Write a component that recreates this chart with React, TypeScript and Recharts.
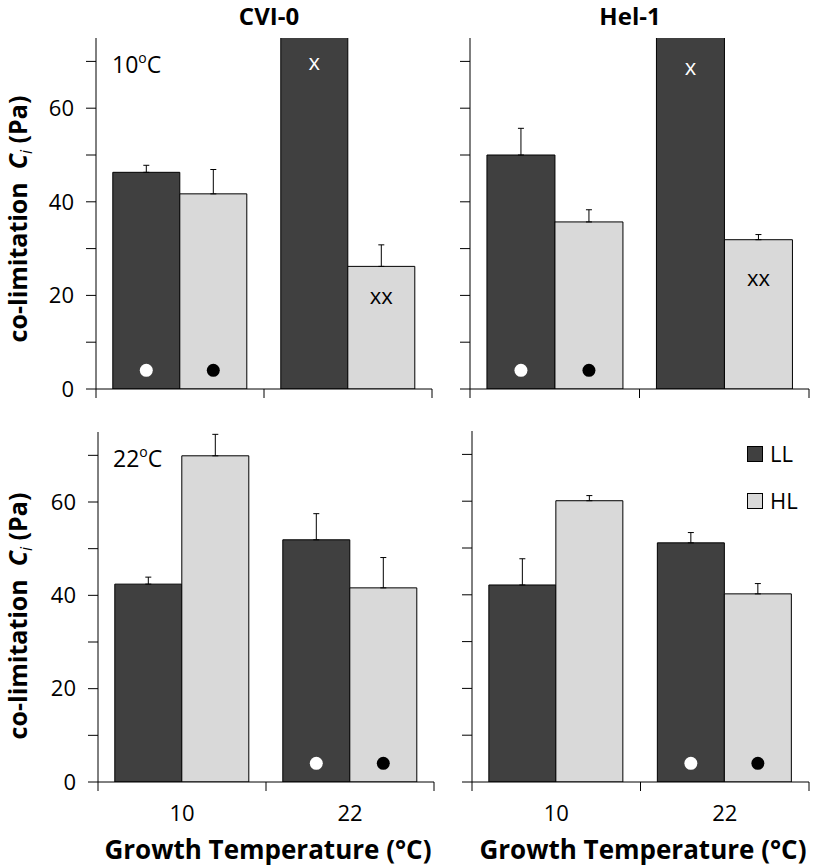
import { BarChart, Bar, XAxis, YAxis, ErrorBar, LabelList, Legend } from "recharts";

const FONT = "'Open Sans', 'Noto Sans', sans-serif";
const DARK = "#404040";
const LIGHT = "#d9d9d9";

// growth temperature categories
const temps = ["10", "22"];
const yTicks = [0, 10, 20, 30, 40, 50, 60, 70];

// measured at 10°C (top row); LL at 22 runs off the top of the axis
const cviTopLL = [46.3, 80];
const cviTopLLErr = [1.5, 0];
const cviTopHL = [41.7, 26.2];
const cviTopHLErr = [5.2, 4.6];
const helTopLL = [50.0, 80];
const helTopLLErr = [5.7, 0];
const helTopHL = [35.7, 31.9];
const helTopHLErr = [2.6, 1.1];

// measured at 22°C (bottom row)
const cviBotLL = [42.4, 51.9];
const cviBotLLErr = [1.5, 5.6];
const cviBotHL = [69.9, 41.6];
const cviBotHLErr = [4.6, 6.5];
const helBotLL = [42.1, 51.1];
const helBotLLErr = [5.6, 2.2];
const helBotHL = [60.1, 40.2];
const helBotHLErr = [1.1, 2.2];

// significance marks and the level (Pa) they sit at
const topLLMarks = ["open", "x"];
const topHLMarks = ["filled", "xx"];
const botLLMarks = ["", "open"];
const botHLMarks = ["", "filled"];
const cviTopLLLevels = [4, 70];
const cviTopHLLevels = [4, 20];
const helTopLLLevels = [4, 69];
const helTopHLLevels = [4, 24];
const botLevels = [4, 4];

function buildRows(
  ll: number[], llErr: number[], hl: number[], hlErr: number[],
  llMarks: string[], hlMarks: string[], llLevels: number[], hlLevels: number[]
) {
  return temps.map((t, i) => ({
    temp: t,
    LL: ll[i],
    llErr: llErr[i] ? [0, llErr[i]] : null,
    llMark: llMarks[i] ? `${llMarks[i]}|${llLevels[i]}|${ll[i]}` : "",
    HL: hl[i],
    hlErr: hlErr[i] ? [0, hlErr[i]] : null,
    hlMark: hlMarks[i] ? `${hlMarks[i]}|${hlLevels[i]}|${hl[i]}` : "",
  }));
}

const renderMark = (props: any) => {
  const vb = props.viewBox ?? props;
  const { x, y, width, height } = vb;
  if (!props.value) return null;
  const [mark, level, value] = String(props.value).split("|");
  const unit = height / Number(value);
  const cx = x + width / 2;
  const cy = y + height - Number(level) * unit;
  if (mark === "open" || mark === "filled") {
    return <circle cx={cx} cy={cy} r={6.5} fill={mark === "open" ? "#fff" : "#000"} />;
  }
  return (
    <text x={cx} y={cy} textAnchor="middle" dominantBaseline="central"
      fill={mark === "x" ? "#fff" : "#000"} fontSize={22} fontFamily={FONT}>
      {mark}
    </text>
  );
};

const BoundaryTick = (props: any) => {
  const { x, y, payload, index, visibleTicksCount, width, showLabel } = props;
  const half = width / visibleTicksCount / 2;
  const isLast = index === visibleTicksCount - 1;
  return (
    <g>
      <line x1={x - half} x2={x - half} y1={y} y2={y + 9} stroke="#000" />
      {isLast && <line x1={x + half} x2={x + half} y1={y} y2={y + 9} stroke="#000" />}
      {showLabel && (
        <text x={x} y={y + 39} textAnchor="middle" fontSize={22} fontFamily={FONT} fill="#000">
          {payload.value}
        </text>
      )}
    </g>
  );
};

const renderLegend = () => (
  <svg width={90} height={84}>
    <rect x={0.5} y={8.5} width={15} height={15} fill={DARK} stroke="#000" />
    <text x={23} y={24} fontSize={22} fontFamily={FONT}>LL</text>
    <rect x={0.5} y={55.5} width={15} height={15} fill={LIGHT} stroke="#000" />
    <text x={23} y={71} fontSize={22} fontFamily={FONT}>HL</text>
  </svg>
);

type PanelProps = {
  left: number;
  top: number;
  width: number;
  height: number;
  margin: { top: number; right: number; bottom: number; left: number };
  yAxisWidth: number;
  xAxisHeight: number;
  data: any[];
  showYLabels: boolean;
  showXLabels: boolean;
  legend?: boolean;
};

function Panel({ left, top, width, height, margin, yAxisWidth, xAxisHeight, data, showYLabels, showXLabels, legend }: PanelProps) {
  return (
    <div style={{ position: "absolute", left, top }}>
      <BarChart width={width} height={height} data={data} margin={margin} barCategoryGap="10%" barGap={0}>
        <XAxis dataKey="temp" interval={0} height={xAxisHeight} axisLine={{ stroke: "#000" }}
          tickLine={false} tickSize={0} tickMargin={0}
          tick={<BoundaryTick showLabel={showXLabels} />} />
        <XAxis xAxisId="top" dataKey="temp" orientation="top" height={0} tick={false} tickLine={false}
          axisLine={{ stroke: "#000" }} />
        <YAxis domain={[0, 75]} ticks={yTicks} allowDataOverflow width={yAxisWidth}
          axisLine={{ stroke: "#000" }} tickLine={{ stroke: "#000" }} tickSize={10} tickMargin={12}
          tick={{ fill: "#000", fontSize: 22, fontFamily: FONT }}
          tickFormatter={(v: number) => (showYLabels && v % 20 === 0 ? String(v) : "")} />
        <YAxis yAxisId="right" orientation="right" width={0} tick={false} tickLine={false}
          axisLine={{ stroke: "#000" }} />
        {legend && (
          <Legend layout="vertical" align="center" verticalAlign="middle" content={renderLegend}
            wrapperStyle={{ left: 307, top: 18, width: 90 }} />
        )}
        <Bar dataKey="LL" fill={DARK} stroke="#000" strokeWidth={1} isAnimationActive={false}>
          <ErrorBar dataKey="llErr" width={3} stroke="#000" strokeWidth={1} direction="y" />
          <LabelList dataKey="llMark" content={renderMark} />
        </Bar>
        <Bar dataKey="HL" fill={LIGHT} stroke="#000" strokeWidth={1} isAnimationActive={false}>
          <ErrorBar dataKey="hlErr" width={3} stroke="#000" strokeWidth={1} direction="y" />
          <LabelList dataKey="hlMark" content={renderMark} />
        </Bar>
      </BarChart>
    </div>
  );
}

const cviTop = buildRows(cviTopLL, cviTopLLErr, cviTopHL, cviTopHLErr, topLLMarks, topHLMarks, cviTopLLLevels, cviTopHLLevels);
const helTop = buildRows(helTopLL, helTopLLErr, helTopHL, helTopHLErr, topLLMarks, topHLMarks, helTopLLLevels, helTopHLLevels);
const cviBot = buildRows(cviBotLL, cviBotLLErr, cviBotHL, cviBotHLErr, botLLMarks, botHLMarks, botLevels, botLevels);
const helBot = buildRows(helBotLL, helBotLLErr, helBotHL, helBotHLErr, botLLMarks, botHLMarks, botLevels, botLevels);

const YLabel = ({ cy }: { cy: number }) => (
  <text transform={`translate(27 ${cy}) rotate(-90)`} textAnchor="middle" fontSize={25}
    fontWeight="bold" fontFamily={FONT} xmlSpace="preserve">
    co-limitation{"  "}
    <tspan fontStyle="italic">C</tspan>
    <tspan fontStyle="italic" fontWeight="normal" fontSize={16} dy={5}>i</tspan>
    <tspan dy={-5}> (Pa)</tspan>
  </text>
);

const TempTag = ({ x, y, t }: { x: number; y: number; t: string }) => (
  <text x={x} y={y} fontSize={23} fontFamily={FONT}>
    {t}
    <tspan fontSize={14} dy={-10}>o</tspan>
    <tspan dy={10}>C</tspan>
  </text>
);

export default function App() {
  return (
    <div style={{ position: "absolute", left: 0, top: 0, width: 815, height: 867, background: "#fff" }}>
      <Panel left={0} top={0} width={440} height={420} margin={{ top: 38, right: 8, bottom: 0, left: 0 }}
        yAxisWidth={96} xAxisHeight={31} data={cviTop} showYLabels showXLabels={false} />
      <Panel left={440} top={0} width={375} height={420} margin={{ top: 38, right: 6, bottom: 0, left: 0 }}
        yAxisWidth={30} xAxisHeight={31} data={helTop} showYLabels={false} showXLabels={false} />
      <Panel left={0} top={420} width={440} height={447} margin={{ top: 12, right: 6, bottom: 0, left: 0 }}
        yAxisWidth={98} xAxisHeight={85} data={cviBot} showYLabels showXLabels />
      <Panel left={440} top={420} width={375} height={447} margin={{ top: 11, right: 6, bottom: 0, left: 0 }}
        yAxisWidth={32} xAxisHeight={85} data={helBot} showYLabels={false} showXLabels legend />
      <svg width={815} height={867} style={{ position: "absolute", left: 0, top: 0, pointerEvents: "none" }}>
        <text x={269} y={25} textAnchor="middle" fontSize={24} fontWeight="bold" fontFamily={FONT}>CVI-0</text>
        <text x={630} y={25} textAnchor="middle" fontSize={24} fontWeight="bold" fontFamily={FONT}>Hel-1</text>
        <YLabel cy={219} />
        <YLabel cy={616} />
        <text x={268} y={859} textAnchor="middle" fontSize={26} fontWeight="bold" fontFamily={FONT}>Growth Temperature (°C)</text>
        <text x={643} y={859} textAnchor="middle" fontSize={26} fontWeight="bold" fontFamily={FONT}>Growth Temperature (°C)</text>
        <TempTag x={112} y={73} t="10" />
        <TempTag x={113} y={467} t="22" />
      </svg>
    </div>
  );
}
